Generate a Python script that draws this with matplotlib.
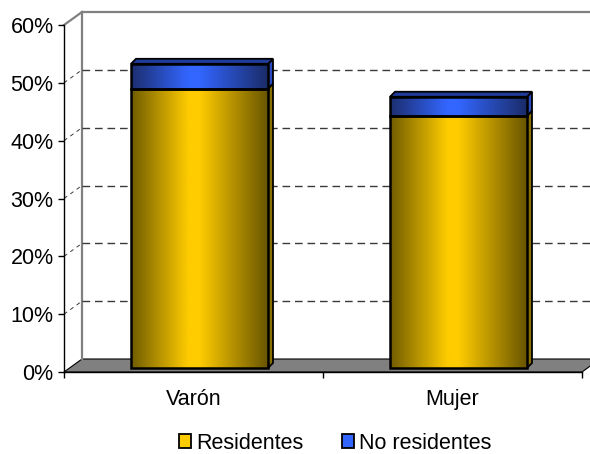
import numpy as np
import matplotlib
matplotlib.use("Agg")
import matplotlib.pyplot as plt
from matplotlib.patches import Polygon, Rectangle, Patch

plt.rcParams['font.family'] = ['Liberation Sans', 'DejaVu Sans']

# data (percent)
categories = ["Varón", "Mujer"]
residentes = [48.3, 43.6]
no_residentes = [4.3, 3.3]
series_names = ["Residentes", "No residentes"]
y_ticks = [0, 10, 20, 30, 40, 50, 60]

W, H = 590, 454
fig = plt.figure(figsize=(W / 100, H / 100), dpi=100)
# front axis from x=64 to 582 px, y from 372 (0%) to 25 (60%)
ax = fig.add_axes([64 / W, (H - 372) / H, (582 - 64) / W, (372 - 25) / H])

XMAX, YMAX = 2.0, 60.0
px_x = (582 - 64) / XMAX
px_y = (372 - 25) / YMAX
DX, DY = 18 / px_x, 13 / px_y          # depth of the 3d box
BX, BY = 6 / px_x, 4 / px_y            # front face offset of bars
SX, SY = 5 / px_x, 5 / px_y            # bar depth
BW = 137 / px_x                        # bar width

wall = "#808080"

# floor
ax.add_patch(Polygon([(0, 0), (XMAX, 0), (XMAX + DX, DY), (DX, DY)], closed=True,
                     facecolor=wall, edgecolor="black", lw=0.8, clip_on=False, zorder=1))
# back wall edges
ax.plot([DX, DX], [DY, YMAX + DY], color=wall, lw=1.6, clip_on=False, zorder=1)
ax.plot([DX, XMAX + 0.2], [YMAX + DY, YMAX + DY], color=wall, lw=1.6, clip_on=False, zorder=1)
ax.plot([0, DX], [YMAX, YMAX + DY], color=wall, lw=1.6, clip_on=False, zorder=1)

# gridlines on the back wall and the side wall
for v in y_ticks[1:-1]:
    ax.plot([DX, XMAX + 0.2], [v + DY, v + DY], color="#3a3a3a", lw=1.0,
            dashes=(5.5, 3.5), clip_on=False, zorder=1)
    ax.plot([0, DX], [v, v + DY], color="#3a3a3a", lw=0.7, dashes=(4, 4),
            clip_on=False, zorder=1)


def gradient(c_edge_l, c_mid, c_edge_r, n=256):
    t = np.linspace(0, 1, n)
    stops = [0, 0.42, 0.5, 1]
    cols = np.array([c_edge_l, c_mid, c_mid, c_edge_r], dtype=float) / 255
    img = np.stack([np.interp(t, stops, cols[:, k]) for k in range(3)], axis=-1)
    return img[np.newaxis, :, :]


yellow_grad = gradient((112, 92, 0), (255, 204, 0), (105, 85, 0))
blue_grad = gradient((28, 46, 110), (51, 102, 255), (26, 44, 105))

x_pos = np.arange(len(categories)) + 0.5
for i, xc in enumerate(x_pos):
    x0 = xc - BW / 2 + BX
    x1 = x0 + BW
    segs = [(BY, BY + residentes[i], yellow_grad, "#8a7000"),
            (BY + residentes[i], BY + residentes[i] + no_residentes[i], blue_grad, "#2a4cc0")]
    for y0, y1, grad, side_col in segs:
        # side face
        ax.add_patch(Polygon([(x1, y0), (x1 + SX, y0 + SY), (x1 + SX, y1 + SY), (x1, y1)],
                             closed=True, facecolor=side_col, edgecolor="black", lw=1.3,
                             clip_on=False, zorder=3))
        # front face with shading
        im = ax.imshow(grad, extent=[x0, x1, y0, y1], aspect="auto", zorder=4,
                       interpolation="bilinear")
        rect = Rectangle((x0, y0), BW, y1 - y0, transform=ax.transData,
                         facecolor="none", edgecolor="black", lw=1.8, zorder=5, clip_on=False)
        ax.add_patch(rect)
        im.set_clip_path(rect)
    # top face
    ytop = BY + residentes[i] + no_residentes[i]
    ax.add_patch(Polygon([(x0, ytop), (x1, ytop), (x1 + SX, ytop + SY), (x0 + SX, ytop + SY)],
                         closed=True, facecolor="#1f3c9a", edgecolor="black", lw=1.3,
                         clip_on=False, zorder=5))

ax.set_xlim(0, XMAX)
ax.set_ylim(0, YMAX)

ax.spines["top"].set_visible(False)
ax.spines["right"].set_visible(False)
ax.spines["left"].set_linewidth(1.0)
ax.spines["bottom"].set_linewidth(1.0)
ax.spines["left"].set_zorder(6)
ax.spines["bottom"].set_zorder(6)
ax.patch.set_visible(False)

ax.set_yticks(y_ticks)
ax.set_yticklabels([f"{v}%" for v in y_ticks])
ax.tick_params(axis="y", direction="out", length=4.5, width=1, pad=3, labelsize=15.5)
ax.set_xticks([0, 1, 2])
ax.set_xticklabels([])
ax.tick_params(axis="x", which="major", direction="out", length=4, width=1)
ax.set_xticks(x_pos, minor=True)
ax.set_xticklabels(categories, minor=True)
ax.tick_params(axis="x", which="minor", length=0, pad=12, labelsize=15.5)

handles = [Patch(facecolor="#ffcc00", edgecolor="black", lw=1.3),
           Patch(facecolor="#3366ff", edgecolor="black", lw=1.3)]
fig.legend(handles, series_names, loc="center", bbox_to_anchor=(0.568, 0.024),
           ncol=2, frameon=False, fontsize=15.5, handlelength=0.55, handleheight=0.6,
           handletextpad=0.25, columnspacing=1.8, borderaxespad=0, borderpad=0)

fig.savefig("out.png", dpi=100)
